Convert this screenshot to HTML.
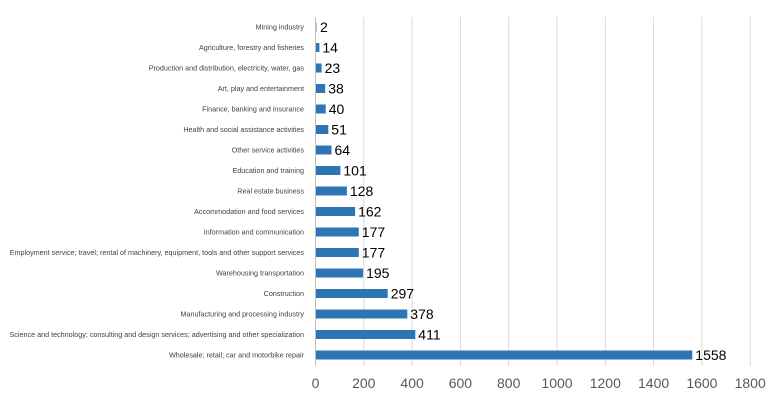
<!DOCTYPE html>
<html><head><style>
body{margin:0;background:#fff;width:782px;height:400px;overflow:hidden;font-family:"Liberation Sans",sans-serif}
</style></head><body>
<svg width="782" height="400" xmlns="http://www.w3.org/2000/svg">
<g stroke="#d9d9d9" stroke-width="1">
<line x1="363.8" y1="17" x2="363.8" y2="366"/><line x1="412.1" y1="17" x2="412.1" y2="366"/><line x1="460.4" y1="17" x2="460.4" y2="366"/><line x1="508.7" y1="17" x2="508.7" y2="366"/><line x1="557" y1="17" x2="557" y2="366"/><line x1="605.3" y1="17" x2="605.3" y2="366"/><line x1="653.6" y1="17" x2="653.6" y2="366"/><line x1="701.9" y1="17" x2="701.9" y2="366"/><line x1="750.2" y1="17" x2="750.2" y2="366"/>
</g>
<line x1="315.5" y1="17" x2="315.5" y2="366" stroke="#bfbfbf"/>
<g font-size="14" fill="#595959" text-anchor="middle">
<text x="315.5" y="388">0</text><text x="363.8" y="388">200</text><text x="412.1" y="388">400</text><text x="460.4" y="388">600</text><text x="508.7" y="388">800</text><text x="557" y="388">1000</text><text x="605.3" y="388">1200</text><text x="653.6" y="388">1400</text><text x="701.9" y="388">1600</text><text x="750.2" y="388">1800</text>
</g>
<g fill="#2e75b6">
<rect x="316" y="22.5" width="1" height="9" fill="#9dc3e6"/>
<rect x="316" y="43" width="3.4" height="9"/>
<rect x="316" y="63.5" width="5.6" height="9"/>
<rect x="316" y="84" width="9.2" height="9"/>
<rect x="316" y="104.5" width="9.7" height="9"/>
<rect x="316" y="125" width="12.3" height="9"/>
<rect x="316" y="145.5" width="15.5" height="9"/>
<rect x="316" y="166" width="24.4" height="9"/>
<rect x="316" y="186.5" width="30.9" height="9"/>
<rect x="316" y="207" width="39.1" height="9"/>
<rect x="316" y="227.5" width="42.8" height="9"/>
<rect x="316" y="248" width="42.8" height="9"/>
<rect x="316" y="268.5" width="47.1" height="9"/>
<rect x="316" y="289" width="71.7" height="9"/>
<rect x="316" y="309.5" width="91.3" height="9"/>
<rect x="316" y="330" width="99.3" height="9"/>
<rect x="316" y="350.5" width="376.3" height="9"/>
</g>
<g font-size="7.2" fill="#404040" text-anchor="end">
<text x="304" y="29.5">Mining industry</text>
<text x="304" y="50">Agriculture, forestry and fisheries</text>
<text x="304" y="70.5">Production and distribution, electricity, water, gas</text>
<text x="304" y="91">Art, play and entertainment</text>
<text x="304" y="111.5">Finance, banking and insurance</text>
<text x="304" y="132">Health and social assistance activities</text>
<text x="304" y="152.5">Other service activities</text>
<text x="304" y="173">Education and training</text>
<text x="304" y="193.5">Real estate business</text>
<text x="304" y="214">Accommodation and food services</text>
<text x="304" y="234.5">Information and communication</text>
<text x="304" y="255">Employment service; travel; rental of machinery, equipment, tools and other support services</text>
<text x="304" y="275.5">Warehousing transportation</text>
<text x="304" y="296">Construction</text>
<text x="304" y="316.5">Manufacturing and processing industry</text>
<text x="304" y="337">Science and technology; consulting and design services; advertising and other specialization</text>
<text x="304" y="357.5">Wholesale; retail; car and motorbike repair</text>
</g>
<g font-size="14" fill="#000">
<text x="320" y="32">2</text>
<text x="322.4" y="52.5">14</text>
<text x="324.6" y="73">23</text>
<text x="328.2" y="93.5">38</text>
<text x="328.7" y="114">40</text>
<text x="331.3" y="134.5">51</text>
<text x="334.5" y="155">64</text>
<text x="343.4" y="175.5">101</text>
<text x="349.9" y="196">128</text>
<text x="358.1" y="216.5">162</text>
<text x="361.8" y="237">177</text>
<text x="361.8" y="257.5">177</text>
<text x="366.1" y="278">195</text>
<text x="390.7" y="298.5">297</text>
<text x="410.3" y="319">378</text>
<text x="418.3" y="339.5">411</text>
<text x="695.3" y="360">1558</text>
</g>
</svg>
</body></html>
